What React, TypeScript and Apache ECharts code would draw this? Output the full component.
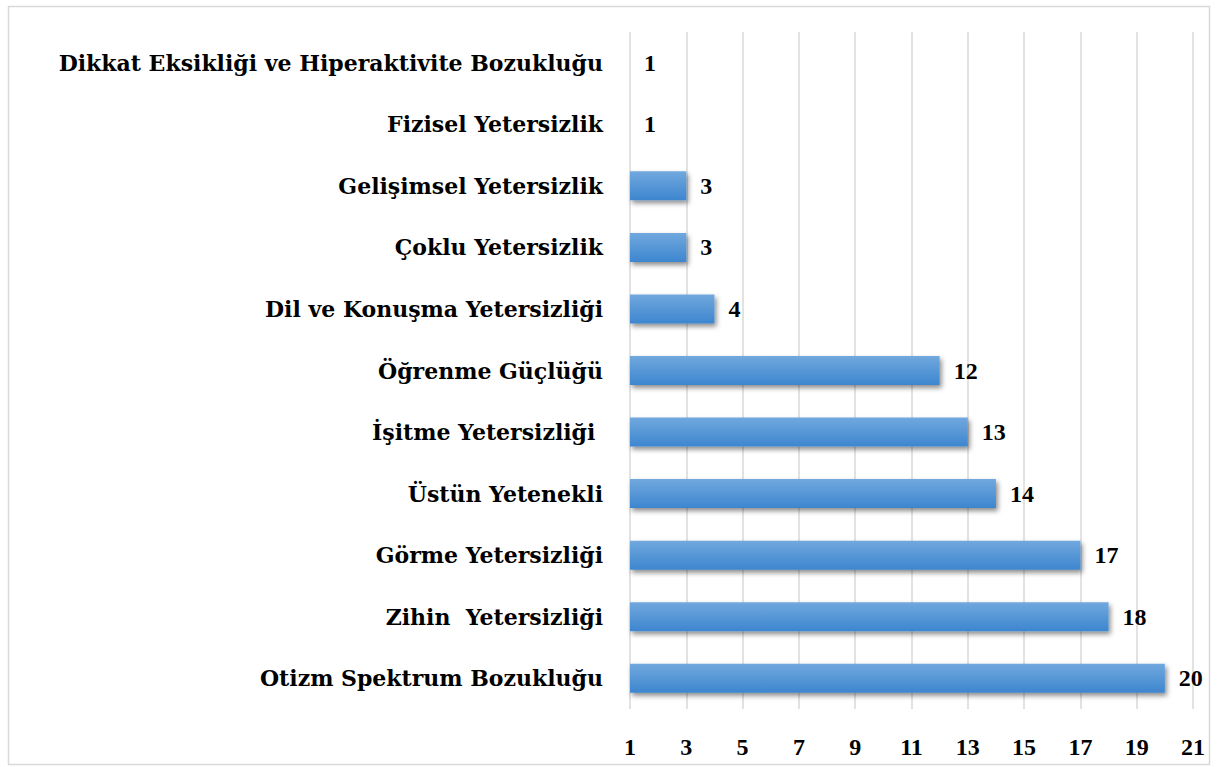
import React, { useEffect, useRef } from "react";
import * as echarts from "echarts";

const categories = [
  "Otizm Spektrum Bozukluğu",
  "Zihin  Yetersizliği",
  "Görme Yetersizliği",
  "Üstün Yetenekli",
  "İşitme Yetersizliği ",
  "Öğrenme Güçlüğü",
  "Dil ve Konuşma Yetersizliği",
  "Çoklu Yetersizlik",
  "Gelişimsel Yetersizlik",
  "Fizisel Yetersizlik",
  "Dikkat Eksikliği ve Hiperaktivite Bozukluğu",
];
const values = [20, 18, 17, 14, 13, 12, 4, 3, 3, 1, 1];
const axisMin = 1;
const axisMax = 21;
const axisStep = 2;

const LABEL_FONT = "'DejaVu Serif', 'Liberation Serif', serif";
const NUM_FONT = "'Liberation Serif', 'DejaVu Serif', serif";

export default function App() {
  const ref = useRef<HTMLDivElement>(null);
  useEffect(() => {
    if (!ref.current) return;
    const chart = echarts.init(ref.current, null, { renderer: "svg" });
    chart.setOption({
      animation: false,
      backgroundColor: "#ffffff",
      graphic: [
        {
          type: "rect",
          shape: { x: 8.5, y: 6.5, width: 1201, height: 758 },
          style: { fill: "none", stroke: "#d9d9d9", lineWidth: 1.5 },
          silent: true,
        },
      ],
      grid: { left: 630, right: 25, top: 32, bottom: 58, containLabel: false },
      xAxis: {
        type: "value",
        min: axisMin,
        max: axisMax,
        interval: axisStep,
        axisLine: { show: false },
        axisTick: { show: false },
        splitLine: { show: true, lineStyle: { color: "#d9d9d9", width: 1.5 } },
        axisLabel: {
          margin: 26,
          color: "#000",
          fontFamily: NUM_FONT,
          fontWeight: "bold",
          fontSize: 24,
        },
      },
      yAxis: {
        type: "category",
        data: categories,
        axisLine: { show: false },
        axisTick: { show: false },
        axisLabel: {
          margin: 27,
          color: "#000",
          fontFamily: LABEL_FONT,
          fontWeight: "bold",
          fontSize: 22,
        },
      },
      series: [
        {
          type: "bar",
          data: values,
          barWidth: 29,
          clip: true,
          itemStyle: {
            color: new echarts.graphic.LinearGradient(0, 0, 0, 1, [
              { offset: 0, color: "#71a8de" },
              { offset: 1, color: "#3d86cf" },
            ]),
            shadowColor: "rgba(0,0,0,0.45)",
            shadowBlur: 5,
            shadowOffsetX: 2,
            shadowOffsetY: 3,
          },
          label: {
            show: true,
            position: "right",
            distance: 14,
            color: "#000",
            fontFamily: NUM_FONT,
            fontWeight: "bold",
            fontSize: 24,
          },
        },
      ],
    });
    return () => chart.dispose();
  }, []);
  return (
    <div
      ref={ref}
      style={{ position: "fixed", left: 0, top: 0, width: 1218, height: 767 }}
    />
  );
}
